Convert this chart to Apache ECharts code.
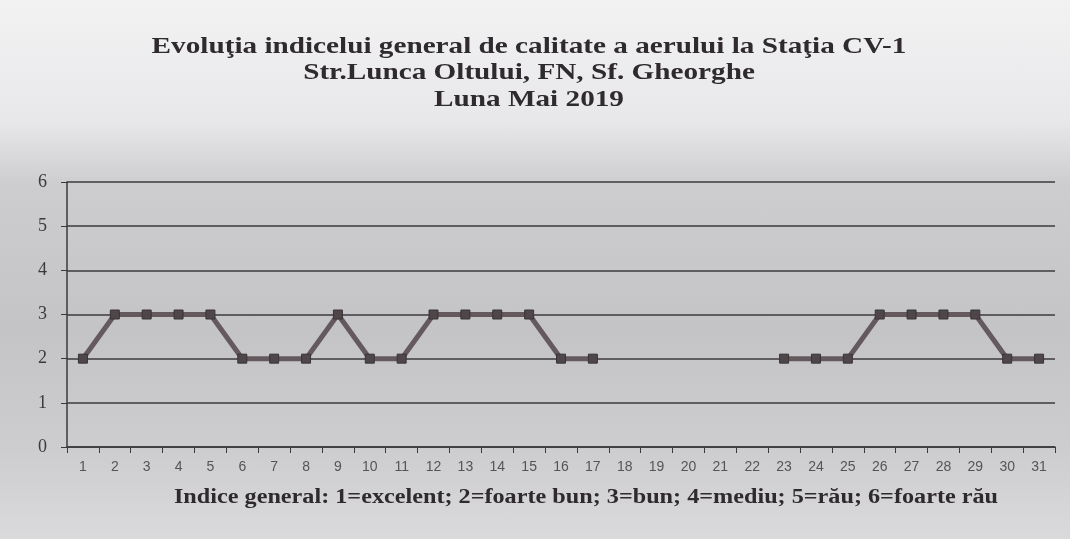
<!DOCTYPE html>
<html>
<head>
<meta charset="utf-8">
<script src="https://cdn.jsdelivr.net/npm/echarts@6/dist/echarts.min.js"></script>
<style>
  html, body { margin: 0; padding: 0; }
  body {
    width: 1070px; height: 539px;
    background: linear-gradient(to bottom, #f2f2f3 0px, #e8e8ea 120px, #cdcdd0 185px, #c4c4c7 330px, #cdcdd0 450px, #dadadc 539px);
  }
  #main { width: 1070px; height: 539px; }
</style>
</head>
<body>
<div id="main"></div>
<script>
  // zilele lunii
  var days = [];
  for (var d = 1; d <= 31; d++) days.push(String(d));
  // indice general (lipsa date 18-22)
  var indice = [2, 3, 3, 3, 3, 2, 2, 2, 3, 2, 2, 3, 3, 3, 3, 2, 2,
                null, null, null, null, null,
                2, 2, 2, 3, 3, 3, 3, 2, 2];
  var titleLines = [
    'Evoluţia indicelui general de calitate a aerului la Staţia CV-1',
    'Str.Lunca Oltului, FN, Sf. Gheorghe',
    'Luna Mai 2019'
  ];
  var legendText = 'Indice general: 1=excelent; 2=foarte bun; 3=bun; 4=mediu; 5=rău; 6=foarte rău';

  var serifBold = { fontFamily: 'Liberation Serif', fontWeight: 'bold', fill: '#2e2a2e' };

  // textul scanat e putin latit pe orizontala
  var graphics = titleLines.map(function (t, i) {
    return {
      type: 'text',
      x: 529,
      y: 47 + i * 26.5,
      scaleX: 1.27,
      style: Object.assign({ text: t, fontSize: 23, align: 'center', verticalAlign: 'middle' }, serifBold)
    };
  });
  graphics.push({
    type: 'text',
    x: 586,
    y: 498,
    scaleX: 1.21,
    style: Object.assign({ text: legendText, fontSize: 20, align: 'center', verticalAlign: 'middle' }, serifBold)
  });

  var chart = echarts.init(document.getElementById('main'));
  chart.setOption({
    backgroundColor: 'transparent',
    animation: false,
    graphic: graphics,
    grid: { left: 67, right: 15, top: 182, bottom: 92 },
    xAxis: {
      type: 'category',
      data: days,
      boundaryGap: true,
      axisLine: { lineStyle: { color: '#3a3a3a', width: 1.5 } },
      axisTick: { show: true, length: 6, lineStyle: { color: '#3a3a3a' } },
      axisLabel: {
        fontFamily: 'Liberation Sans',
        fontSize: 14,
        color: '#555',
        margin: 13
      }
    },
    yAxis: {
      type: 'value',
      min: 0,
      max: 6,
      interval: 1,
      axisLine: { show: true, lineStyle: { color: '#3a3a3a', width: 1.5 } },
      axisTick: { show: true, length: 6, lineStyle: { color: '#3a3a3a' } },
      splitLine: { lineStyle: { color: '#3c3a3c', width: 1.5 } },
      axisLabel: {
        fontFamily: 'Liberation Serif',
        fontSize: 18,
        color: '#3a3a3a',
        margin: 20
      }
    },
    series: [{
      type: 'line',
      data: indice,
      connectNulls: false,
      symbol: 'rect',
      symbolSize: 9,
      lineStyle: { color: '#645a5e', width: 5 },
      itemStyle: { color: '#4e4649', borderColor: '#3a3436', borderWidth: 1 }
    }]
  });
</script>
</body>
</html>
